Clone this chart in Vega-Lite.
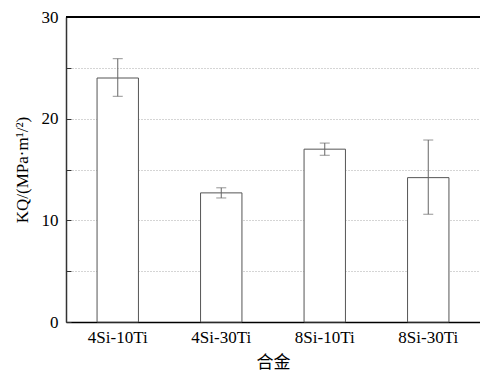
{
  "$schema": "https://vega.github.io/schema/vega-lite/v6.json",
  "autosize": "none",
  "width": 414,
  "height": 305,
  "padding": {"left": 66, "top": 17, "right": 0, "bottom": 52},
  "background": "white",
  "config": {
    "view": {"stroke": null},
    "font": "Times New Roman, Liberation Serif, serif"
  },
  "data": {
    "values": [
      {"alloy": "4Si-10Ti", "k": 24.0, "lo": 22.2, "hi": 25.9},
      {"alloy": "4Si-30Ti", "k": 12.7, "lo": 12.2, "hi": 13.2},
      {"alloy": "8Si-10Ti", "k": 17.0, "lo": 16.4, "hi": 17.6},
      {"alloy": "8Si-30Ti", "k": 14.2, "lo": 10.6, "hi": 17.9}
    ]
  },
  "layer": [
    {
      "mark": {"type": "bar", "fill": "white", "stroke": "#555555", "strokeWidth": 1},
      "encoding": {
        "x": {
          "field": "alloy", "type": "nominal", "sort": null,
          "scale": {"paddingInner": 0.6, "paddingOuter": 0.3},
          "title": "合金",
          "axis": {
            "labelAngle": 0, "labelFont": "Times New Roman, Liberation Serif, serif", "labelFontSize": 17,
            "labelColor": "black", "labelPadding": 7, "ticks": false,
            "domainColor": "black", "domainWidth": 1.5,
            "titleFont": "Noto Sans CJK SC", "titleFontSize": 17, "titleFontWeight": "normal",
            "titleColor": "black", "titlePadding": 9
          }
        },
        "y": {
          "field": "k", "type": "quantitative",
          "scale": {"domain": [0, 30], "nice": false},
          "title": "KQ/(MPa·m¹/²)",
          "axis": {
            "values": [0, 5, 10, 15, 20, 25, 30],
            "labelExpr": "datum.value % 10 == 0 ? datum.label : ''",
            "grid": true, "gridDash": [1, 2], "gridColor": "#aaaaaa", "gridWidth": 1,
            "tickSize": -5, "tickColor": "#333333",
            "labelFont": "Times New Roman, Liberation Serif, serif", "labelFontSize": 17, "labelColor": "black",
            "labelPadding": 13,
            "domainColor": "#333333", "domainWidth": 1.5,
            "titleFont": "Times New Roman, Liberation Serif, serif", "titleFontSize": 17, "titleFontWeight": "normal",
            "titleColor": "black", "titlePadding": 10
          }
        }
      }
    },
    {
      "mark": {"type": "rule", "color": "#666666", "strokeWidth": 1},
      "encoding": {
        "x": {"field": "alloy", "type": "nominal", "sort": null},
        "y": {"field": "lo", "type": "quantitative"},
        "y2": {"field": "hi"}
      }
    },
    {
      "mark": {"type": "tick", "color": "#666666", "size": 10, "thickness": 1},
      "encoding": {
        "x": {"field": "alloy", "type": "nominal", "sort": null},
        "y": {"field": "lo", "type": "quantitative"}
      }
    },
    {
      "mark": {"type": "tick", "color": "#666666", "size": 10, "thickness": 1},
      "encoding": {
        "x": {"field": "alloy", "type": "nominal", "sort": null},
        "y": {"field": "hi", "type": "quantitative"}
      }
    },
    {
      "mark": {"type": "rule", "color": "black", "strokeWidth": 1.5},
      "encoding": {
        "y": {"datum": 30, "type": "quantitative"}
      }
    }
  ]
}
